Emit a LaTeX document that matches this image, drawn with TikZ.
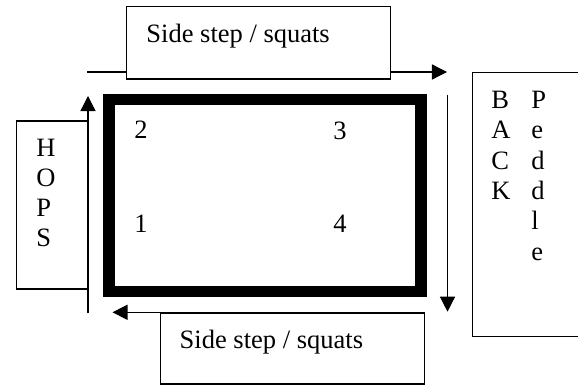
\documentclass[tikz,border=0pt]{standalone}
\usepackage{fontspec}
\setmainfont{Liberation Serif}
\usepackage{tikz}
\usetikzlibrary{positioning,arrows.meta}

\tikzset{
  box/.style={draw, fill=white, line width=0.6pt, inner sep=0pt, anchor=north west},
  lbl/.style={anchor=base west, inner sep=0pt, font=\fontsize{12}{13.8}\selectfont},
  run/.style={line width=0.6pt, -{Triangle[length=6.8pt,width=6.8pt]}},
  field/.style={line width=5.2pt}
}

\begin{document}
\begin{tikzpicture}[x=0.4528pt, y=-0.4528pt]
      \useasboundingbox (0,0) rectangle (578,388);
      % the field
      \draw[field] (108.8,99.3) rectangle (420.8,291.7);
      \node[lbl] (n2) at (134,139) {2};
      \node[lbl] (n3) at (333,139.5) {3};
      \node[lbl] (n1) at (134,232.5) {1};
      \node[lbl] (n4) at (333,232.5) {4};
      % arrows round the field
      \coordinate (topstart) at (87.3,72);
      \coordinate (topend) at (447,72);
      \coordinate (rightstart) at (447.5,95);
      \coordinate (rightend) at (447.5,311.7);
      \coordinate (bottomend) at (112.5,312.3);
      \coordinate (leftstart) at (88,313);
      \coordinate (leftend) at (88,96);
      \draw[run] (topstart) -- (topend);
      \draw[run] (rightstart) -- (rightend);
      % boxes
      \node[box, minimum width=119.7pt, minimum height=32.7pt] (topbox) at (125.7,6) {};
      \node[lbl] (toptext) at (146,42.7) {Side step / squats};
      \node[box, minimum width=119.5pt, minimum height=32.1pt] (bottombox) at (160,312.3) {};
      \node[lbl] (bottomtext) at (179.3,348.3) {Side step / squats};
      \draw[run] (bottombox.north west) -- (bottomend);
      \node[box, minimum width=32.4pt, minimum height=76pt] (hopsbox) at (15.7,120.5) {};
      \foreach \ch [count=\i from 0] in {H,O,P,S}
        \node[lbl] (hops\i) at (36,{156+30.3*\i}) {\ch};
      \draw[run] (leftstart) -- (leftend);
      \node[box, minimum width=60pt, minimum height=119.5pt] (backbox) at (471.7,72) {};
      \foreach \ch [count=\i from 0] in {B,A,C,K}
        \node[lbl] (back\i) at (491,{108.5+30.3*\i}) {\ch};
      \foreach \ch [count=\i from 0] in {P,e,d,d,l,e}
        \node[lbl] (peddle\i) at (531,{108.5+30.3*\i}) {\ch};
\end{tikzpicture}
\end{document}
